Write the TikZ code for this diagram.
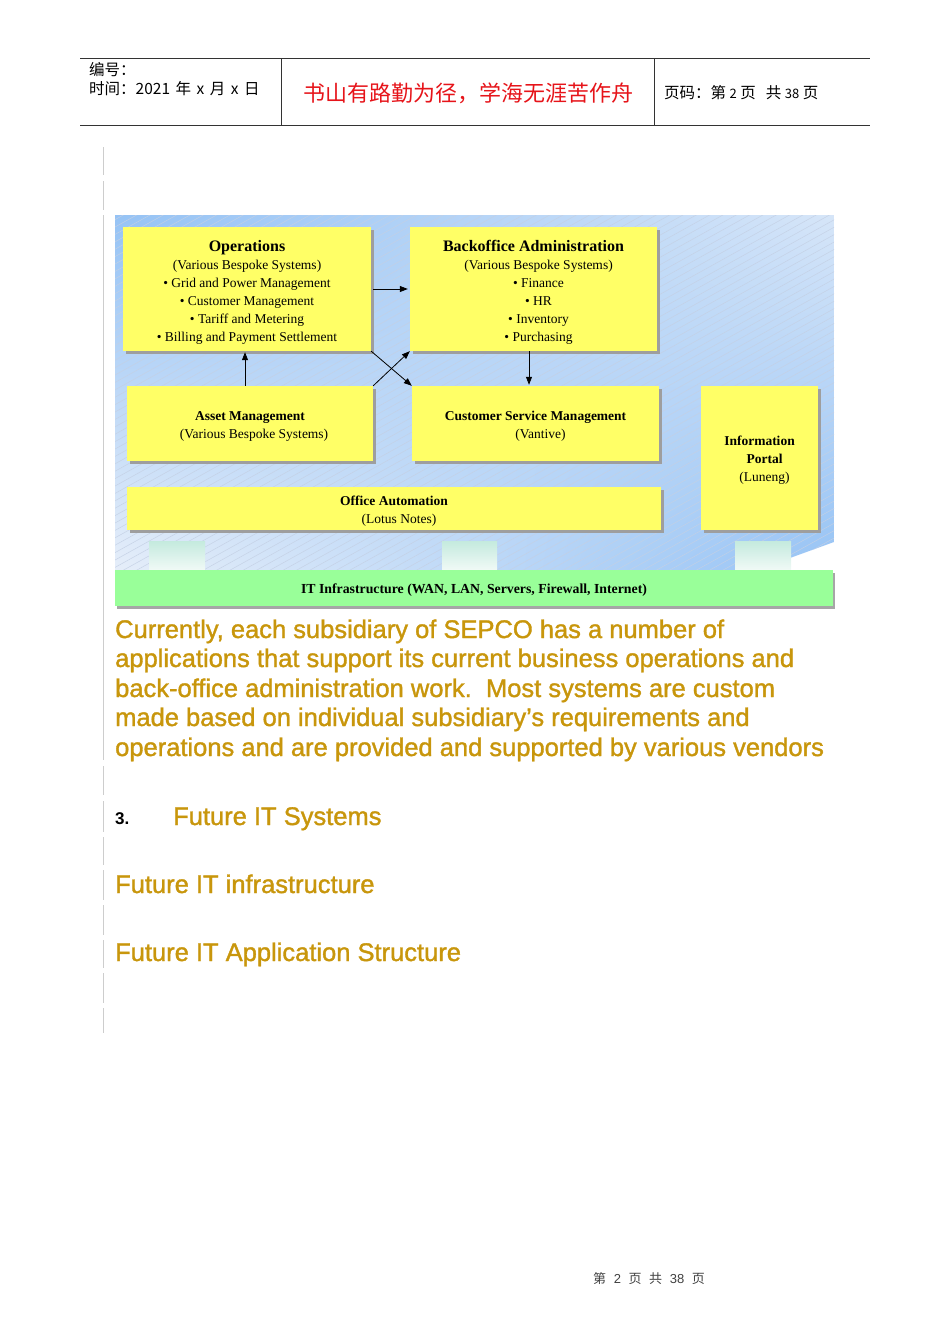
\documentclass[tikz,border=0pt]{standalone}
\usepackage{fontspec}
\setmainfont{Liberation Serif}
\newfontfamily\arialf{Liberation Sans}
\newfontfamily\arialm[FakeBold=1.4]{Liberation Sans}
\newfontfamily\cjk{Noto Sans CJK SC}
\usetikzlibrary{arrows.meta,shadows,calc,shadings}
\definecolor{boxyellow}{RGB}{255,255,102}
\definecolor{barGreen}{RGB}{153,255,153}
\definecolor{bgblue}{RGB}{150,195,245}
\definecolor{bgpale}{RGB}{230,238,249}
\definecolor{hatchc}{RGB}{196,208,228}
\definecolor{gold}{RGB}{200,150,12}
\definecolor{mottored}{RGB}{230,20,26}
\definecolor{rulegray}{RGB}{205,205,205}
\definecolor{pilltop}{RGB}{196,234,222}
\definecolor{pillbot}{RGB}{242,250,247}
\tikzset{
  ybox/.style={rectangle, fill=boxyellow, draw=none, inner sep=0pt,
    drop shadow={shadow xshift=2.5pt, shadow yshift=-2.5pt, fill=black!38, opacity=1}},
  btxt/.style={inner sep=0pt, align=center, font=\fontsize{13.5}{18}\selectfont},
  gbox/.style={rectangle, fill=barGreen, draw=none, inner sep=0pt,
    drop shadow={shadow xshift=2pt, shadow yshift=-2.5pt, fill=black!35, opacity=1}},
  arr/.style={draw=black, line width=0.8pt, -{Triangle[length=8pt,width=6pt]}},
  body/.style={anchor=base west, inner sep=0pt, text=gold, font=\arialm\fontsize{25.5}{29.5}\selectfont},
  hdr/.style={anchor=base west, inner sep=0pt, font=\cjk\fontsize{15.5}{18}\selectfont},
  pillar/.style={top color=pilltop, bottom color=pillbot, draw=none},
}
\begin{document}
\begin{tikzpicture}[x=1pt,y=-1pt]
\useasboundingbox (0,0) rectangle (950,1344);
% header
\draw[line width=1pt, black!80] (80,58) -- (870,58);
\draw[line width=1pt, black!80] (80,125) -- (870,125);
\draw[line width=1pt, black!80] (281,58) -- (281,125);
\draw[line width=1pt, black!80] (654,58) -- (654,125);
\node[hdr] (h1) at (89,75) {编号：};
\node[hdr] (h2) at (89,94) {时间：2021\hspace{5.5pt}年\hspace{5.5pt}x\hspace{5.5pt}月\hspace{5.5pt}x\hspace{5.5pt}日};
\node[anchor=base, inner sep=0pt, text=mottored, font=\cjk\fontsize{22}{26}\selectfont] (motto) at (468,101) {书山有路勤为径，学海无涯苦作舟};
\node[hdr] (h3) at (664,98) {页码：第\hspace{3.5pt}{\fontsize{13}{15}\selectfont 2}\hspace{3.5pt}页\hspace{10pt}共\hspace{3.5pt}{\fontsize{13}{15}\selectfont 38}\hspace{3.5pt}页};
% left rule segments
\foreach \a/\b in {147/175,181/210,215/760,766/795,801/832,837/865,870/900,905/935,940/968,973/1003,1008/1033}
  \draw[rulegray, line width=1pt] (103.5,\a) -- (103.5,\b);
% background
\begin{scope}
\clip (115,215) -- (834,215) -- (834,542) -- (790,558) -- (790,572) -- (115,572) -- cycle;
\shade[upper left=bgblue, upper right=bgpale!80!bgblue, lower left=bgpale, lower right=bgblue] (115,215) rectangle (834,572);
\foreach \k in {0,...,135}
  \draw[hatchc, line width=0.5pt, opacity=0.9] (110,{215+\k*7.4}) -- ++(740,-411);
\end{scope}
% pillars
\fill[pillar] (149,541) rectangle (205,571);
\fill[pillar] (442,541) rectangle (497,571);
\fill[pillar] (735,541) rectangle (791,571);
% boxes
\node[ybox, minimum width=248pt, minimum height=124pt] (ops) at (247,289) {};
\node[ybox, minimum width=247pt, minimum height=124pt] (back) at (533.5,289) {};
\node[ybox, minimum width=246pt, minimum height=75pt] (asset) at (250,423.5) {};
\node[ybox, minimum width=247pt, minimum height=75pt] (csm) at (535.5,423.5) {};
\node[ybox, minimum width=117pt, minimum height=144pt] (portal) at (759.5,458) {};
\node[ybox, minimum width=534pt, minimum height=43pt] (office) at (394,508.5) {};
\node[gbox, minimum width=718pt, minimum height=36pt] (infra) at (474,588) {};
% box texts
\node[btxt] (opsT) at ([yshift=-3pt]ops.center)
  {{\bfseries\fontsize{16}{18}\selectfont Operations}\\(Various Bespoke Systems)\\\textbullet\ Grid and Power Management\\\textbullet\ Customer Management\\\textbullet\ Tariff and Metering\\\textbullet\ Billing and Payment Settlement};
\node[btxt] (backT) at ([yshift=-3pt]back.center)
  {{\bfseries\fontsize{16}{18}\selectfont Backoffice Administration}\\\hspace{10pt}(Various Bespoke Systems)\\\hspace{10pt}\textbullet\ Finance\\\hspace{10pt}\textbullet\ HR\\\hspace{10pt}\textbullet\ Inventory\\\hspace{10pt}\textbullet\ Purchasing};
\node[btxt] (assetT) at ([yshift=-2.5pt]asset.center)
  {{\bfseries Asset Management}\\\hspace{8pt}(Various Bespoke Systems)};
\node[btxt] (csmT) at ([yshift=-2.5pt]csm.center)
  {{\bfseries Customer Service Management}\\\hspace{10pt}(Vantive)};
\node[btxt] (portalT) at ([yshift=-2pt]portal.center)
  {{\bfseries Information}\\\hspace{10pt}{\bfseries Portal}\\\hspace{10pt}(Luneng)};
\node[btxt] (officeT) at ([yshift=-2.5pt]office.center)
  {{\bfseries Office Automation}\\\hspace{10pt}(Lotus Notes)};
\node[btxt, font=\bfseries\fontsize{13.8}{16}\selectfont] (infraT) at ([yshift=-2pt]infra.center)
  {IT Infrastructure (WAN, LAN, Servers, Firewall, Internet)};
% connectors
\draw[arr] ([xshift=2pt]ops.east) -- ([xshift=-2pt]back.west);
\draw[arr] ([xshift=-5pt]asset.north) -- ([xshift=-5pt,yshift=-1pt]asset.north |- ops.south);
\draw[arr] ([xshift=-4.5pt]back.south) -- ([xshift=-4.5pt,yshift=1pt]back.south |- csm.north);
\draw[arr] (ops.south east) -- (csm.north west);
\draw[arr] (asset.north east) -- (back.south west);
% body text
\node[body] (p1) at (115,638) {Currently, each subsidiary of SEPCO has a number of};
\node[body] (p2) at (115,667) {applications that support its current business operations and};
\node[body] (p3) at (115,697) {back-office administration work.\ \ Most systems are custom};
\node[body] (p4) at (115,726) {made based on individual subsidiary’s requirements and};
\node[body] (p5) at (115,756) {operations and are provided and supported by various vendors};
\node[anchor=base west, inner sep=0pt, font=\arialf\bfseries\fontsize{17}{20}\selectfont] (n3) at (115,824) {3.};
\node[body] (s1) at (173,825) {Future IT Systems};
\node[body] (s2) at (115,893) {Future IT infrastructure};
\node[body] (s3) at (115,961) {Future IT Application Structure};
% footer
\node[anchor=base, inner sep=0pt, text=black!75, font=\cjk\fontsize{13}{15}\selectfont] (foot) at (649,1283) {第\hspace{7.6pt}{\arialf 2}\hspace{7.6pt}页\hspace{7.6pt}共\hspace{7.6pt}{\arialf 38}\hspace{7.6pt}页};
\end{tikzpicture}
\end{document}
